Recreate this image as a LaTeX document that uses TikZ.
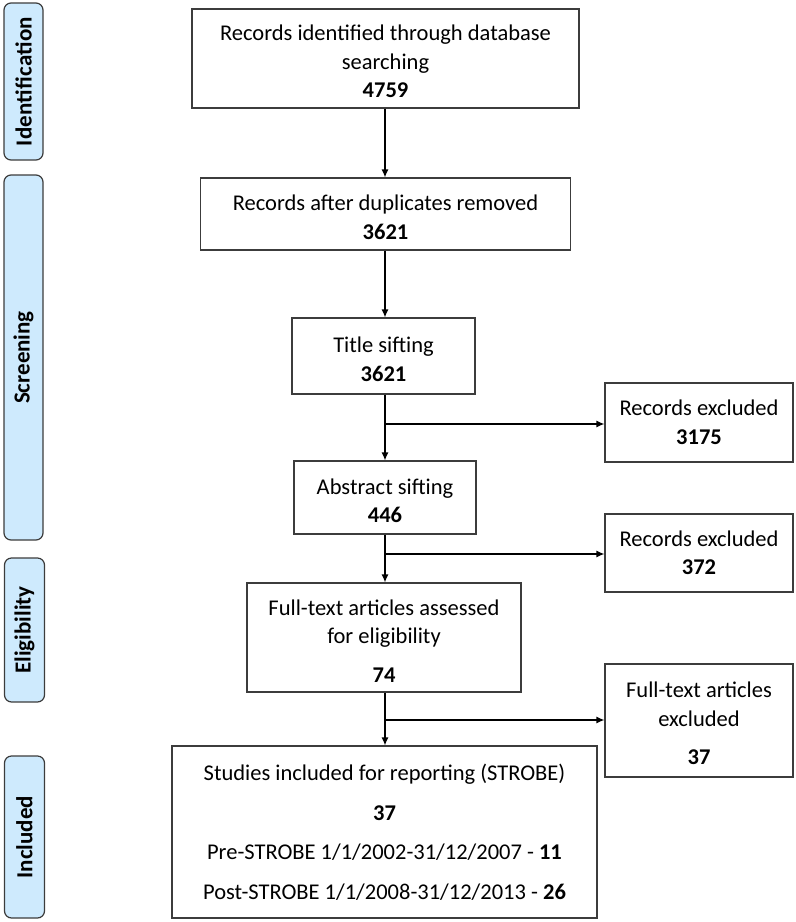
\documentclass[tikz,border=0pt]{standalone}
\usepackage{fontspec}
\setmainfont{Carlito}
\usetikzlibrary{arrows.meta}
\definecolor{sidefill}{RGB}{206,234,253}
\definecolor{edge}{RGB}{60,60,60}
\newcommand{\topstrut}{\rule{0pt}{22pt}}
\tikzset{
  box/.style={draw=edge, line width=1.2pt, rectangle, align=center, inner sep=0pt,
    font=\fontsize{22.5}{28.5}\selectfont},
  side/.style={draw=edge, line width=1.2pt, fill=sidefill, rounded corners=7pt, inner sep=0pt},
  sidetext/.style={rotate=90, font=\fontsize{23}{27}\selectfont\bfseries},
  arr/.style={line width=1.2pt, -{Latex[length=8pt,width=7pt]}}
}
\begin{document}
\begin{tikzpicture}[x=1pt,y=-1pt]
\useasboundingbox (0,0) rectangle (796,922);
% side labels
\node[side, minimum width=39pt, minimum height=157pt] (sid) at (23.5,81.5) {};
\node[sidetext] (sidt) at (sid.center) {\addfontfeatures{LetterSpace=1}Identification};
\node[side, minimum width=39pt, minimum height=365pt] (sscr) at (23.5,357.5) {};
\node[sidetext] (sscrt) at (sscr.center) {Screening};
\node[side, minimum width=40pt, minimum height=144pt] (selg) at (24.5,630) {};
\node[sidetext] (selgt) at (selg.center) {Eligibility};
\node[side, minimum width=40pt, minimum height=162pt] (sinc) at (24.5,837) {};
\node[sidetext] (sinct) at (sinc.center) {Included};
% main boxes
\node[box, minimum width=387pt, minimum height=99pt] (b1) at (385.5,58.5)
  {\topstrut Records identified through database\\searching\\\textbf{4759}};
\node[box, minimum width=370pt, minimum height=72pt] (b2) at (385.5,214)
  {\topstrut Records after duplicates removed\\\textbf{3621}};
\node[box, minimum width=183pt, minimum height=76pt] (b3) at (383.5,356)
  {\topstrut Title sifting\\\textbf{3621}};
\node[box, minimum width=182pt, minimum height=73pt] (b4) at (385,497.5)
  {\topstrut Abstract sifting\\\textbf{446}};
\node[box, minimum width=274pt, minimum height=109pt] (b5) at (384,637.5)
  {\topstrut Full-text articles assessed\\for eligibility\\[10pt]\textbf{74}};
\node[box, minimum width=425pt, minimum height=172pt] (b6) at (384.5,832)
  {Studies included for reporting (STROBE)\\[11pt]\textbf{37}\\[11pt]Pre-STROBE 1/1/2002-31/12/2007 - \textbf{11}\\[11pt]Post-STROBE 1/1/2008-31/12/2013 - \textbf{26}};
\node[box, minimum width=188pt, minimum height=79pt] (e1) at (699,422.5)
  {Records excluded\\\textbf{3175}};
\node[box, minimum width=188pt, minimum height=78pt] (e2) at (699,553)
  {Records excluded\\\textbf{372}};
\node[box, minimum width=188pt, minimum height=113pt] (e3) at (699,720.5)
  {\topstrut Full-text articles\\excluded\\[10pt]\textbf{37}};
% connectors
\coordinate (j1) at (385,424);
\coordinate (j2) at (385,554);
\coordinate (j3) at (385,720);
\draw[arr] (b1.south -| j1) -- (b2.north -| j1);
\draw[arr] (b2.south -| j1) -- (b3.north -| j1);
\draw[arr] (b3.south -| j1) -- (b4.north -| j1);
\draw[arr] (b4.south -| j1) -- (b5.north -| j1);
\draw[arr] (b5.south -| j1) -- (b6.north -| j1);
\draw[arr] (j1) -- (j1 -| e1.west);
\draw[arr] (j2) -- (j2 -| e2.west);
\draw[arr] (j3) -- (j3 -| e3.west);
\end{tikzpicture}
\end{document}
